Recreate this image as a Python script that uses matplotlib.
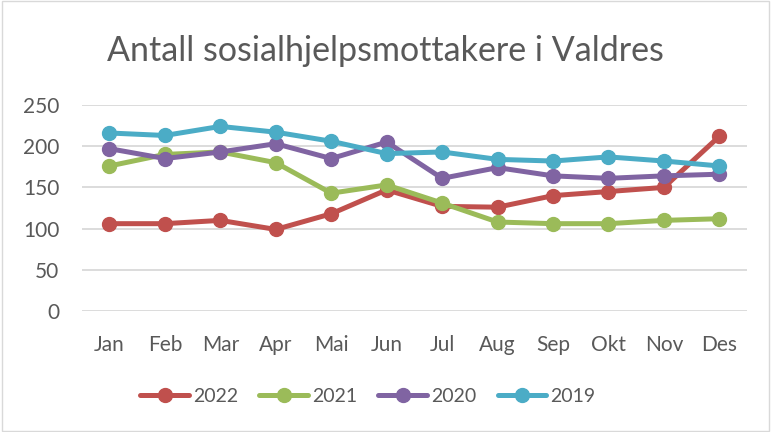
import matplotlib.pyplot as plt
from matplotlib.patches import Rectangle

# monthly values
months = ["Jan", "Feb", "Mar", "Apr", "Mai", "Jun", "Jul", "Aug", "Sep", "Okt", "Nov", "Des"]
y2022 = [106, 106, 110, 99, 118, 147, 127, 126, 140, 145, 150, 212]
y2021 = [176, 190, 193, 180, 143, 153, 131, 108, 106, 106, 110, 112]
y2020 = [197, 185, 193, 203, 185, 205, 161, 174, 164, 161, 164, 166]
y2019 = [216, 213, 224, 217, 206, 191, 193, 184, 182, 187, 182, 176]

series = [("2022", y2022, "#C0504D"),
          ("2021", y2021, "#9BBB59"),
          ("2020", y2020, "#8064A2"),
          ("2019", y2019, "#4BACC6")]

plt.rcParams['font.family'] = ['Lato', 'DejaVu Sans']
txt = "#595959"

fig = plt.figure(figsize=(7.71, 4.32), dpi=100)
ax = fig.add_axes([0.106, 0.280, 0.863, 0.477])

x = range(len(months))
for name, vals, col in series:
    ax.plot(x, vals, "o-", color=col, lw=3.6, ms=10, label=name,
            solid_capstyle="round")

ax.set_xlim(-0.5, len(months) - 0.5)
ax.set_ylim(0, 250)
ax.set_yticks(range(0, 251, 50))
ax.set_xticks(list(x))
ax.set_xticklabels(months)
ax.tick_params(length=0, labelsize=15, colors=txt)
ax.tick_params(axis="x", pad=17)
ax.tick_params(axis="y", pad=16)
ax.grid(axis="y", color="#D9D9D9", lw=1.3)
ax.set_axisbelow(True)
for s in ax.spines.values():
    s.set_visible(False)

fig.text(0.5, 0.883, "Antall sosialhjelpsmottakere i Valdres", ha="center",
         va="center", fontsize=24.5, color=txt)

leg = fig.legend(loc="center", bbox_to_anchor=(0.477, 0.083), ncol=4,
                 frameon=False, fontsize=14, handlelength=2.5,
                 columnspacing=1.1, handletextpad=0.2)
for t in leg.get_texts():
    t.set_color(txt)

fig.patches.append(Rectangle((0.002, 0.003), 0.996, 0.994, transform=fig.transFigure,
                             fill=False, edgecolor="#D9D9D9", lw=1))

fig.savefig("out.png", dpi=100)
